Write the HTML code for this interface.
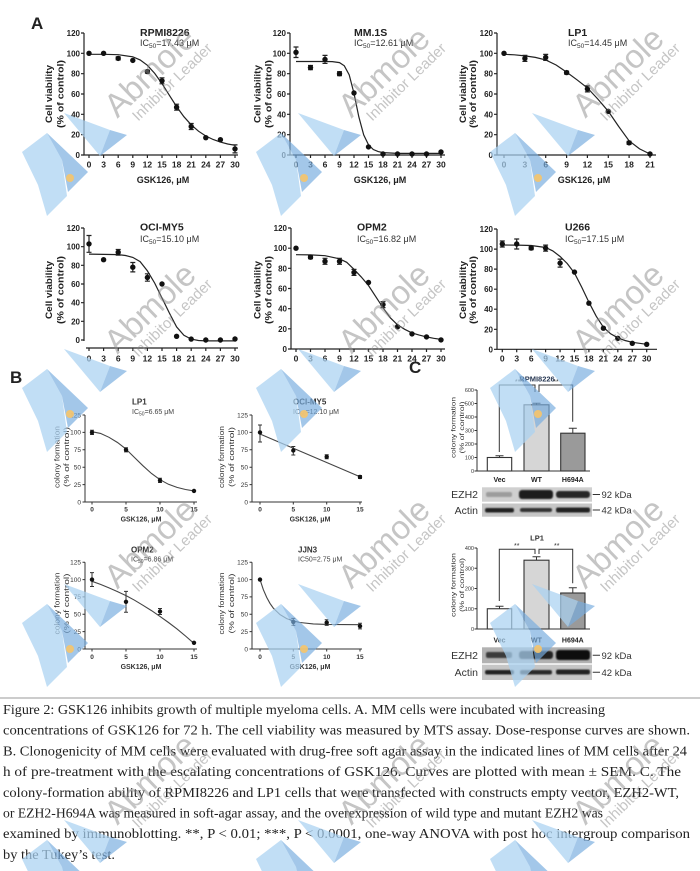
<!DOCTYPE html>
<html><head><meta charset="utf-8"><style>
html,body{margin:0;padding:0;background:#fff;width:700px;height:871px;overflow:hidden;}
svg{display:block;overflow:hidden;}
text{font-family:"Liberation Sans",Arial,sans-serif;}
.ser{font-family:"Liberation Serif","Times New Roman",serif;}
</style></head><body>
<svg width="700" height="871" viewBox="0 0 700 871" xmlns="http://www.w3.org/2000/svg">
<defs>
<g id="logo">
<polygon points="-128,80 -103,61 -88,88 -83,124 -103,144 -112,113" fill="#a9d1f1" opacity="0.72"/>
<polygon points="-103,61 -62,100 -82,120 -88,88" fill="#78addf" opacity="0.68"/>
<polygon points="-86,41 -40,58 -50,84" fill="#a9d1f1" opacity="0.72"/>
<polygon points="-40,58 -23,63 -50,84" fill="#78addf" opacity="0.68"/>
<circle cx="-80" cy="106" r="4" fill="#f6c46a" opacity="0.9"/>
</g>
<g id="logo2">
<polygon points="-128,80 -103,61 -88,88 -87.4,92 -122.2,92" fill="#a9d1f1" opacity="0.72"/>
<polygon points="-103,61 -70.4,92 -87.25,92 -88,88" fill="#78addf" opacity="0.68"/>
<polygon points="-86,41 -40,58 -50,84" fill="#a9d1f1" opacity="0.72"/>
<polygon points="-40,58 -23,63 -50,84" fill="#78addf" opacity="0.68"/>
</g>
<filter id="bl" x="-20%" y="-50%" width="140%" height="200%"><feGaussianBlur stdDeviation="0.8"/></filter>
</defs>
<rect width="700" height="871" fill="#fff"/>

<!-- ===== Panel A row 1 ===== -->
<text x="31" y="29" font-size="17" font-weight="bold" fill="#222">A</text>

<!-- A1 RPMI8226 -->
<g stroke="#222" stroke-width="1.2" fill="none">
<path d="M84,33V155H238"/>
<path d="M81,155H84M81,134.7H84M81,114.3H84M81,94H84M81,73.7H84M81,53.3H84M81,33H84"/>
<path d="M89,155V158M103.6,155V158M118.2,155V158M132.8,155V158M147.4,155V158M162,155V158M176.6,155V158M191.2,155V158M205.8,155V158M220.4,155V158M235,155V158"/>
<polyline points="89,54.3 103.6,54.3 118.2,54.7 132.8,56.8 140.1,59.9 147.4,65.3 154.7,73.4 162,83.6 169.3,95.2 176.6,106.6 183.9,116.7 191.2,124.8 198.5,131.2 205.8,136 213.1,139.5 220.4,142.1 227.7,144 235,145.3"/>
<path d="M118.2,56.9V59.9M115.7,56.9H120.7M115.7,59.9H120.7M147.4,70.1V73.1M144.9,70.1H149.9M144.9,73.1H149.9M162,77.8V83.8M159.5,77.8H164.5M159.5,83.8H164.5M176.6,104.2V110.2M174.1,104.2H179.1M174.1,110.2H179.1M191.2,123.5V129.5M188.7,123.5H193.7M188.7,129.5H193.7M235,144.9V152.9M232.5,144.9H237.5M232.5,152.9H237.5"/>
</g>
<g fill="#111"><circle cx="89" cy="53.3" r="2.7"/><circle cx="103.6" cy="53.3" r="2.7"/><circle cx="118.2" cy="58.4" r="2.7"/><circle cx="132.8" cy="60.4" r="2.7"/><circle cx="147.4" cy="71.6" r="2.7"/><circle cx="162" cy="80.8" r="2.7"/><circle cx="176.6" cy="107.2" r="2.7"/><circle cx="191.2" cy="126.5" r="2.7"/><circle cx="205.8" cy="137.7" r="2.7"/><circle cx="220.4" cy="139.7" r="2.7"/><circle cx="235" cy="148.9" r="2.7"/></g>
<g font-size="8" font-weight="bold" fill="#222" text-anchor="end"><text x="80" y="158">0</text><text x="80" y="137.7">20</text><text x="80" y="117.3">40</text><text x="80" y="97">60</text><text x="80" y="76.7">80</text><text x="80" y="56.3">100</text><text x="80" y="36">120</text></g>
<g font-size="8.5" font-weight="bold" fill="#222" text-anchor="middle"><text x="89" y="167.5">0</text><text x="103.6" y="167.5">3</text><text x="118.2" y="167.5">6</text><text x="132.8" y="167.5">9</text><text x="147.4" y="167.5">12</text><text x="162" y="167.5">15</text><text x="176.6" y="167.5">18</text><text x="191.2" y="167.5">21</text><text x="205.8" y="167.5">24</text><text x="220.4" y="167.5">27</text><text x="235" y="167.5">30</text></g>
<text x="140" y="36" font-size="10.5" font-weight="bold" fill="#222">RPMI8226</text>
<text x="140" y="46" font-size="9" fill="#333">IC<tspan font-size="6.5" dy="2">50</tspan><tspan dy="-2">=17.43 μM</tspan></text>
<text x="163" y="183" font-size="9" font-weight="bold" fill="#222" text-anchor="middle">GSK126, μM</text>
<text transform="translate(52,94) rotate(-90)" font-size="9.5" font-weight="bold" fill="#222" text-anchor="middle" textLength="58" lengthAdjust="spacingAndGlyphs">Cell viability</text>
<text transform="translate(63.5,94) rotate(-90)" font-size="9" font-weight="bold" fill="#222" text-anchor="middle" textLength="68" lengthAdjust="spacingAndGlyphs">(% of control)</text>

<!-- A2 MM.1S -->
<g stroke="#222" stroke-width="1.2" fill="none">
<path d="M290,33V155H445"/>
<path d="M287,155H290M287,134.7H290M287,114.3H290M287,94H290M287,73.7H290M287,53.3H290M287,33H290"/>
<path d="M296,155V158M310.5,155V158M325,155V158M339.5,155V158M354,155V158M368.5,155V158M383,155V158M397.5,155V158M412,155V158M426.5,155V158M441,155V158"/>
<polyline points="296,61.5 325,61.5 332.3,61.6 339.5,62.6 344.3,65.8 349.2,74.9 354,93.4 358.8,116.7 363.7,134.9 368.5,144.8 373.3,149.5 378.2,151.6 383,152.6 397.5,153.4 441,153.4"/>
<path d="M296,47V57.5M293.5,47H298.5M293.5,57.5H298.5M310.5,65.5V69.7M308,65.5H313M308,69.7H313M325,55.4V63.4M322.5,55.4H327.5M322.5,63.4H327.5M339.5,71.7V75.7M337,71.7H342M337,75.7H342"/>
</g>
<g fill="#111"><circle cx="296" cy="52.3" r="2.7"/><circle cx="310.5" cy="67.6" r="2.7"/><circle cx="325" cy="59.4" r="2.7"/><circle cx="339.5" cy="73.7" r="2.7"/><circle cx="354" cy="93" r="2.7"/><circle cx="368.5" cy="146.9" r="2.7"/><circle cx="383" cy="154" r="2.7"/><circle cx="397.5" cy="154" r="2.7"/><circle cx="412" cy="154" r="2.7"/><circle cx="426.5" cy="154" r="2.7"/><circle cx="441" cy="152" r="2.7"/></g>
<g font-size="8" font-weight="bold" fill="#222" text-anchor="end"><text x="286" y="158">0</text><text x="286" y="137.7">20</text><text x="286" y="117.3">40</text><text x="286" y="97">60</text><text x="286" y="76.7">80</text><text x="286" y="56.3">100</text><text x="286" y="36">120</text></g>
<g font-size="8.5" font-weight="bold" fill="#222" text-anchor="middle"><text x="296" y="167.5">0</text><text x="310.5" y="167.5">3</text><text x="325" y="167.5">6</text><text x="339.5" y="167.5">9</text><text x="354" y="167.5">12</text><text x="368.5" y="167.5">15</text><text x="383" y="167.5">18</text><text x="397.5" y="167.5">21</text><text x="412" y="167.5">24</text><text x="426.5" y="167.5">27</text><text x="441" y="167.5">30</text></g>
<text x="354" y="36" font-size="10.5" font-weight="bold" fill="#222">MM.1S</text>
<text x="354" y="46" font-size="9" fill="#333">IC<tspan font-size="6.5" dy="2">50</tspan><tspan dy="-2">=12.61 μM</tspan></text>
<text x="380" y="183" font-size="9" font-weight="bold" fill="#222" text-anchor="middle">GSK126,  μM</text>
<text transform="translate(260.5,94) rotate(-90)" font-size="9.5" font-weight="bold" fill="#222" text-anchor="middle" textLength="58" lengthAdjust="spacingAndGlyphs">Cell viability</text>
<text transform="translate(271.5,94) rotate(-90)" font-size="9" font-weight="bold" fill="#222" text-anchor="middle" textLength="68" lengthAdjust="spacingAndGlyphs">(% of control)</text>

<!-- A3 LP1 -->
<g stroke="#222" stroke-width="1.2" fill="none">
<path d="M497,33V155H656"/>
<path d="M494,155H497M494,134.7H497M494,114.3H497M494,94H497M494,73.7H497M494,53.3H497M494,33H497"/>
<path d="M504,155V158M524.9,155V158M545.7,155V158M566.6,155V158M587.4,155V158M608.3,155V158M629.1,155V158M650,155V158"/>
<polyline points="504,54.3 514.4,54.8 524.9,55.9 535.3,57.4 545.7,59.9 556.1,65 566.6,72.1 577,79.8 587.4,87.9 597.9,99.1 608.3,111.3 618.7,126.5 629.1,140.8 639.6,148.9 650,154"/>
<path d="M524.9,55.4V61.4M522.4,55.4H527.4M522.4,61.4H527.4M545.7,54.4V60.4M543.2,54.4H548.2M543.2,60.4H548.2M566.6,71.1V74.1M564.1,71.1H569.1M564.1,74.1H569.1M587.4,85.9V91.9M584.9,85.9H589.9M584.9,91.9H589.9M629.1,141.3V144.3M626.6,141.3H631.6M626.6,144.3H631.6"/>
</g>
<g fill="#111"><circle cx="504" cy="53.3" r="2.7"/><circle cx="524.9" cy="58.4" r="2.7"/><circle cx="545.7" cy="57.4" r="2.7"/><circle cx="566.6" cy="72.6" r="2.7"/><circle cx="587.4" cy="88.9" r="2.7"/><circle cx="608.3" cy="111.3" r="2.7"/><circle cx="629.1" cy="142.8" r="2.7"/><circle cx="650" cy="154" r="2.7"/></g>
<g font-size="8" font-weight="bold" fill="#222" text-anchor="end"><text x="493" y="158">0</text><text x="493" y="137.7">20</text><text x="493" y="117.3">40</text><text x="493" y="97">60</text><text x="493" y="76.7">80</text><text x="493" y="56.3">100</text><text x="493" y="36">120</text></g>
<g font-size="8.5" font-weight="bold" fill="#222" text-anchor="middle"><text x="504" y="167.5">0</text><text x="524.9" y="167.5">3</text><text x="545.7" y="167.5">6</text><text x="566.6" y="167.5">9</text><text x="587.4" y="167.5">12</text><text x="608.3" y="167.5">15</text><text x="629.1" y="167.5">18</text><text x="650" y="167.5">21</text></g>
<text x="568" y="36" font-size="10.5" font-weight="bold" fill="#222">LP1</text>
<text x="568" y="46" font-size="9" fill="#333">IC<tspan font-size="6.5" dy="2">50</tspan><tspan dy="-2">=14.45 μM</tspan></text>
<text x="584" y="183" font-size="9" font-weight="bold" fill="#222" text-anchor="middle">GSK126, μM</text>
<text transform="translate(466,94) rotate(-90)" font-size="9.5" font-weight="bold" fill="#222" text-anchor="middle" textLength="58" lengthAdjust="spacingAndGlyphs">Cell viability</text>
<text transform="translate(476,94) rotate(-90)" font-size="9" font-weight="bold" fill="#222" text-anchor="middle" textLength="68" lengthAdjust="spacingAndGlyphs">(% of control)</text>

<!-- ===== Row 2 ===== -->
<!-- A4 OCI-MY5 -->
<g stroke="#222" stroke-width="1.2" fill="none">
<path d="M84,228V341M86,348H238"/>
<path d="M81,340H84M81,321.3H84M81,302.7H84M81,284H84M81,265.3H84M81,246.7H84M81,228H84"/>
<path d="M89,348V351M103.6,348V351M118.2,348V351M132.8,348V351M147.4,348V351M162,348V351M176.6,348V351M191.2,348V351M205.8,348V351M220.4,348V351M235,348V351"/>
<polyline points="89,254.1 118.2,254.6 125.5,255.5 132.8,257.4 140.1,261.6 147.4,270.9 154.7,283.1 162,298 169.3,312.9 176.6,326.9 183.9,335.3 191.2,339.1 198.5,340.5 205.8,340.9 235,340.9"/>
<path d="M89,235.5V252.3M86.5,235.5H91.5M86.5,252.3H91.5M118.2,249.5V255.1M115.7,249.5H120.7M115.7,255.1H120.7M132.8,262.5V271.9M130.3,262.5H135.3M130.3,271.9H135.3M147.4,273.8V281.2M144.9,273.8H149.9M144.9,281.2H149.9"/>
</g>
<g fill="#111"><circle cx="89" cy="243.9" r="2.7"/><circle cx="103.6" cy="259.7" r="2.7"/><circle cx="118.2" cy="252.3" r="2.7"/><circle cx="132.8" cy="267.2" r="2.7"/><circle cx="147.4" cy="277.5" r="2.7"/><circle cx="162" cy="284" r="2.7"/><circle cx="176.6" cy="336.3" r="2.7"/><circle cx="191.2" cy="339.1" r="2.7"/><circle cx="205.8" cy="340" r="2.7"/><circle cx="220.4" cy="340" r="2.7"/><circle cx="235" cy="339" r="2.7"/></g>
<g font-size="8" font-weight="bold" fill="#222" text-anchor="end"><text x="80" y="343">0</text><text x="80" y="324.3">20</text><text x="80" y="305.7">40</text><text x="80" y="287">60</text><text x="80" y="268.3">80</text><text x="80" y="249.7">100</text><text x="80" y="231">120</text></g>
<g font-size="8.5" font-weight="bold" fill="#222" text-anchor="middle"><text x="89" y="361.5">0</text><text x="103.6" y="361.5">3</text><text x="118.2" y="361.5">6</text><text x="132.8" y="361.5">9</text><text x="147.4" y="361.5">12</text><text x="162" y="361.5">15</text><text x="176.6" y="361.5">18</text><text x="191.2" y="361.5">21</text><text x="205.8" y="361.5">24</text><text x="220.4" y="361.5">27</text><text x="235" y="361.5">30</text></g>
<text x="140" y="230.5" font-size="10.5" font-weight="bold" fill="#222">OCI-MY5</text>
<text x="140" y="242" font-size="9" fill="#333">IC<tspan font-size="6.5" dy="2">50</tspan><tspan dy="-2">=15.10 μM</tspan></text>
<text transform="translate(52,290) rotate(-90)" font-size="9.5" font-weight="bold" fill="#222" text-anchor="middle" textLength="58" lengthAdjust="spacingAndGlyphs">Cell viability</text>
<text transform="translate(63.5,290) rotate(-90)" font-size="9" font-weight="bold" fill="#222" text-anchor="middle" textLength="68" lengthAdjust="spacingAndGlyphs">(% of control)</text>

<!-- A5 OPM2 -->
<g stroke="#222" stroke-width="1.2" fill="none">
<path d="M291,228V349H445"/>
<path d="M288,349H291M288,328.8H291M288,308.7H291M288,288.5H291M288,268.3H291M288,248.2H291M288,228H291"/>
<path d="M296,349V352M310.5,349V352M325,349V352M339.5,349V352M354,349V352M368.5,349V352M383,349V352M397.5,349V352M412,349V352M426.5,349V352M441,349V352"/>
<polyline points="296,254.7 310.5,254.9 325,255.7 339.5,258.8 346.7,262.3 354,269.3 361.2,276.9 368.5,285.5 375.7,296.6 383,307.7 390.2,317.7 397.5,324.8 404.7,329.3 412,332.9 419.2,335.1 426.5,336.9 433.7,338.3 441,339.4"/>
<path d="M310.5,255.7V258.7M308,255.7H313M308,258.7H313M325,258.3V264.3M322.5,258.3H327.5M322.5,264.3H327.5M339.5,258.3V264.3M337,258.3H342M337,264.3H342M354,269.4V275.4M351.5,269.4H356.5M351.5,275.4H356.5M383,301.6V307.6M380.5,301.6H385.5M380.5,307.6H385.5"/>
</g>
<g fill="#111"><circle cx="296" cy="248.2" r="2.7"/><circle cx="310.5" cy="257.2" r="2.7"/><circle cx="325" cy="261.3" r="2.7"/><circle cx="339.5" cy="261.3" r="2.7"/><circle cx="354" cy="272.4" r="2.7"/><circle cx="368.5" cy="282.5" r="2.7"/><circle cx="383" cy="304.6" r="2.7"/><circle cx="397.5" cy="326.8" r="2.7"/><circle cx="412" cy="333.9" r="2.7"/><circle cx="426.5" cy="336.9" r="2.7"/><circle cx="441" cy="339.9" r="2.7"/></g>
<g font-size="8" font-weight="bold" fill="#222" text-anchor="end"><text x="287" y="352">0</text><text x="287" y="331.8">20</text><text x="287" y="311.7">40</text><text x="287" y="291.5">60</text><text x="287" y="271.3">80</text><text x="287" y="251.2">100</text><text x="287" y="231">120</text></g>
<g font-size="8.5" font-weight="bold" fill="#222" text-anchor="middle"><text x="296" y="361.5">0</text><text x="310.5" y="361.5">3</text><text x="325" y="361.5">6</text><text x="339.5" y="361.5">9</text><text x="354" y="361.5">12</text><text x="368.5" y="361.5">15</text><text x="383" y="361.5">18</text><text x="397.5" y="361.5">21</text><text x="412" y="361.5">24</text><text x="426.5" y="361.5">27</text><text x="441" y="361.5">30</text></g>
<text x="357" y="230.5" font-size="10.5" font-weight="bold" fill="#222">OPM2</text>
<text x="357" y="242" font-size="9" fill="#333">IC<tspan font-size="6.5" dy="2">50</tspan><tspan dy="-2">=16.82 μM</tspan></text>
<text transform="translate(260.5,290) rotate(-90)" font-size="9.5" font-weight="bold" fill="#222" text-anchor="middle" textLength="58" lengthAdjust="spacingAndGlyphs">Cell viability</text>
<text transform="translate(271.5,290) rotate(-90)" font-size="9" font-weight="bold" fill="#222" text-anchor="middle" textLength="68" lengthAdjust="spacingAndGlyphs">(% of control)</text>

<!-- A6 U266 -->
<g stroke="#222" stroke-width="1.2" fill="none">
<path d="M497,229V349.3H657"/>
<path d="M494,349.3H497M494,329.3H497M494,309.2H497M494,289.2H497M494,269.1H497M494,249.1H497M494,229H497"/>
<path d="M502.3,349.3V352.3M516.7,349.3V352.3M531.2,349.3V352.3M545.6,349.3V352.3M560.1,349.3V352.3M574.5,349.3V352.3M588.9,349.3V352.3M603.4,349.3V352.3M617.8,349.3V352.3M632.3,349.3V352.3M646.7,349.3V352.3"/>
<polyline points="502.3,245 516.7,245.1 531.2,245.5 545.6,247.5 552.8,250.9 560.1,256.5 567.3,263.6 574.5,273.1 581.7,287.1 588.9,302.2 596.2,316.2 603.4,327.2 610.6,333.8 617.8,337.8 625,340.5 632.3,342.3 646.7,344.3"/>
<path d="M502.3,241V247M499.8,241H504.8M499.8,247H504.8M516.7,239V249M514.2,239H519.2M514.2,249H519.2M531.2,246.6V249.6M528.7,246.6H533.7M528.7,249.6H533.7M545.6,245.1V251.1M543.1,245.1H548.1M543.1,251.1H548.1M560.1,259.1V267.1M557.6,259.1H562.6M557.6,267.1H562.6"/>
</g>
<g fill="#111"><circle cx="502.3" cy="244" r="2.7"/><circle cx="516.7" cy="244" r="2.7"/><circle cx="531.2" cy="248.1" r="2.7"/><circle cx="545.6" cy="248.1" r="2.7"/><circle cx="560.1" cy="263.1" r="2.7"/><circle cx="574.5" cy="272.1" r="2.7"/><circle cx="588.9" cy="303.2" r="2.7"/><circle cx="603.4" cy="328.2" r="2.7"/><circle cx="617.8" cy="338.3" r="2.7"/><circle cx="632.3" cy="343.3" r="2.7"/><circle cx="646.7" cy="344.3" r="2.7"/></g>
<g font-size="8" font-weight="bold" fill="#222" text-anchor="end"><text x="493" y="352.3">0</text><text x="493" y="332.3">20</text><text x="493" y="312.2">40</text><text x="493" y="292.2">60</text><text x="493" y="272.1">80</text><text x="493" y="252.1">100</text><text x="493" y="232">120</text></g>
<g font-size="8.5" font-weight="bold" fill="#222" text-anchor="middle"><text x="502.3" y="361.5">0</text><text x="516.7" y="361.5">3</text><text x="531.2" y="361.5">6</text><text x="545.6" y="361.5">9</text><text x="560.1" y="361.5">12</text><text x="574.5" y="361.5">15</text><text x="588.9" y="361.5">18</text><text x="603.4" y="361.5">21</text><text x="617.8" y="361.5">24</text><text x="632.3" y="361.5">27</text><text x="646.7" y="361.5">30</text></g>
<text x="565" y="230.5" font-size="10.5" font-weight="bold" fill="#222">U266</text>
<text x="565" y="242" font-size="9" fill="#333">IC<tspan font-size="6.5" dy="2">50</tspan><tspan dy="-2">=17.15 μM</tspan></text>
<text transform="translate(466,290) rotate(-90)" font-size="9.5" font-weight="bold" fill="#222" text-anchor="middle" textLength="58" lengthAdjust="spacingAndGlyphs">Cell viability</text>
<text transform="translate(476,290) rotate(-90)" font-size="9" font-weight="bold" fill="#222" text-anchor="middle" textLength="68" lengthAdjust="spacingAndGlyphs">(% of control)</text>

<!-- ===== Panel B ===== -->
<text x="10" y="383" font-size="17" font-weight="bold" fill="#222">B</text>

<!-- B1 LP1 -->
<g stroke="#333" stroke-width="1" fill="none">
<path d="M85,415V502H197"/>
<path d="M82.5,502H85M82.5,484.6H85M82.5,467.2H85M82.5,449.8H85M82.5,432.4H85M82.5,415H85"/>
<path d="M92,502V504.5M126,502V504.5M160,502V504.5M194,502V504.5"/>
<polyline stroke="#444" stroke-width="1.1" points="92,431.7 100.5,433.4 109,437.3 117.5,442.5 126,449.1 134.5,457.5 143,465.8 151.5,473.5 160,479.7 168.5,484.3 177,487.4 185.5,489.5 194,490.9"/>
<path d="M92,430.3V434.5M90,430.3H94M90,434.5H94M126,447.7V451.9M124,447.7H128M124,451.9H128M160,478.3V482.5M158,478.3H162M158,482.5H162"/>
</g>
<g fill="#111"><circle cx="92" cy="432.4" r="2.2"/><circle cx="126" cy="449.8" r="2.2"/><circle cx="160" cy="480.4" r="2.2"/><circle cx="194" cy="490.9" r="2.2"/></g>
<g font-size="6.5" fill="#333" text-anchor="end"><text x="81" y="504.3">0</text><text x="81" y="486.9">25</text><text x="81" y="469.5">50</text><text x="81" y="452.1">75</text><text x="81" y="434.7">100</text><text x="81" y="417.3">125</text></g>
<g font-size="6.5" font-weight="bold" fill="#333" text-anchor="middle"><text x="92" y="511.5">0</text><text x="126" y="511.5">5</text><text x="160" y="511.5">10</text><text x="194" y="511.5">15</text></g>
<text x="132" y="404.5" font-size="8" font-weight="bold" fill="#333">LP1</text>
<text x="132" y="414" font-size="7" fill="#444">IC<tspan font-size="5" dy="1.5">50</tspan><tspan dy="-1.5">=6.65 μM</tspan></text>
<text x="141" y="521.5" font-size="7" font-weight="bold" fill="#333" text-anchor="middle">GSK126, μM</text>
<text transform="translate(59.5,457) rotate(-90)" font-size="7.5" fill="#333" text-anchor="middle" textLength="62" lengthAdjust="spacingAndGlyphs">colony formation</text>
<text transform="translate(69,457) rotate(-90)" font-size="7.5" fill="#333" text-anchor="middle" textLength="60" lengthAdjust="spacingAndGlyphs">(% of control)</text>

<!-- B2 OCI-MY5 -->
<g stroke="#333" stroke-width="1" fill="none">
<path d="M252,415V502H362"/>
<path d="M249.5,502H252M249.5,484.6H252M249.5,467.2H252M249.5,449.8H252M249.5,432.4H252M249.5,415H252"/>
<path d="M260,502V504.5M293.3,502V504.5M326.7,502V504.5M360,502V504.5"/>
<line stroke="#444" stroke-width="1.1" x1="260" y1="434" x2="360" y2="476.7"/>
<path d="M260,425V442M258,425H262M258,442H262M293.3,446.5V455M291.3,446.5H295.3M291.3,455H295.3M326.7,454.8V458.8M324.7,454.8H328.7M324.7,458.8H328.7M360,475.5V478.5M358,475.5H362M358,478.5H362"/>
</g>
<g fill="#111"><circle cx="260" cy="432.4" r="2.2"/><circle cx="293.3" cy="450.5" r="2.2"/><circle cx="326.7" cy="456.8" r="2.2"/><circle cx="360" cy="477" r="2.2"/></g>
<g font-size="6.5" fill="#333" text-anchor="end"><text x="248" y="504.3">0</text><text x="248" y="486.9">25</text><text x="248" y="469.5">50</text><text x="248" y="452.1">75</text><text x="248" y="434.7">100</text><text x="248" y="417.3">125</text></g>
<g font-size="6.5" font-weight="bold" fill="#333" text-anchor="middle"><text x="260" y="511.5">0</text><text x="293.3" y="511.5">5</text><text x="326.7" y="511.5">10</text><text x="360" y="511.5">15</text></g>
<text x="293" y="404.5" font-size="8" font-weight="bold" fill="#333">OCI-MY5</text>
<text x="293" y="414" font-size="7" fill="#444">IC<tspan font-size="5" dy="1.5">50</tspan><tspan dy="-1.5">=12.10 μM</tspan></text>
<text x="310" y="521.5" font-size="7" font-weight="bold" fill="#333" text-anchor="middle">GSK126, μM</text>
<text transform="translate(224,457) rotate(-90)" font-size="7.5" fill="#333" text-anchor="middle" textLength="62" lengthAdjust="spacingAndGlyphs">colony formation</text>
<text transform="translate(234,457) rotate(-90)" font-size="7.5" fill="#333" text-anchor="middle" textLength="60" lengthAdjust="spacingAndGlyphs">(% of control)</text>

<!-- B3 OPM2 -->
<g stroke="#333" stroke-width="1" fill="none">
<path d="M85,562.3V649H197"/>
<path d="M82.5,649H85M82.5,631.6H85M82.5,614.3H85M82.5,596.9H85M82.5,579.6H85M82.5,562.3H85"/>
<path d="M92,649V651.5M126,649V651.5M160,649V651.5M194,649V651.5"/>
<polyline stroke="#444" stroke-width="1.1" points="92,581.3 100.5,584.4 109,587.9 117.5,591.6 126,595.6 134.5,600.2 143,605.3 151.5,610.6 160,616.4 168.5,622.5 177,628.9 185.5,636 194,643.4"/>
<path d="M92,572.6V586.5M90,572.6H94M90,586.5H94M126,591.4V612.2M124,591.4H128M124,612.2H128M160,608.5V614.5M158,608.5H162M158,614.5H162"/>
</g>
<g fill="#111"><circle cx="92" cy="579.6" r="2.2"/><circle cx="126" cy="601.8" r="2.2"/><circle cx="160" cy="611.5" r="2.2"/><circle cx="194" cy="642.8" r="2.2"/></g>
<g font-size="6.5" fill="#333" text-anchor="end"><text x="81" y="651.3">0</text><text x="81" y="633.9">25</text><text x="81" y="616.6">50</text><text x="81" y="599.2">75</text><text x="81" y="581.9">100</text><text x="81" y="564.6">125</text></g>
<g font-size="6.5" font-weight="bold" fill="#333" text-anchor="middle"><text x="92" y="659">0</text><text x="126" y="659">5</text><text x="160" y="659">10</text><text x="194" y="659">15</text></g>
<text x="131" y="552.5" font-size="8" font-weight="bold" fill="#333">OPM2</text>
<text x="131" y="561.5" font-size="7" fill="#444">IC<tspan font-size="5" dy="1.5">50</tspan><tspan dy="-1.5">=6.86 μM</tspan></text>
<text x="141" y="669" font-size="7" font-weight="bold" fill="#333" text-anchor="middle">GSK126, μM</text>
<text transform="translate(59.5,603.5) rotate(-90)" font-size="7.5" fill="#333" text-anchor="middle" textLength="62" lengthAdjust="spacingAndGlyphs">colony formation</text>
<text transform="translate(69,603.5) rotate(-90)" font-size="7.5" fill="#333" text-anchor="middle" textLength="60" lengthAdjust="spacingAndGlyphs">(% of control)</text>

<!-- B4 JJN3 -->
<g stroke="#333" stroke-width="1" fill="none">
<path d="M252,562.3V649H362"/>
<path d="M249.5,649H252M249.5,631.6H252M249.5,614.3H252M249.5,596.9H252M249.5,579.6H252M249.5,562.3H252"/>
<path d="M260,649V651.5M293.3,649V651.5M326.7,649V651.5M360,649V651.5"/>
<polyline stroke="#444" stroke-width="1.1" points="260,579.6 263.3,589.6 266.7,597.4 270,603.4 273.3,608.1 280,614.6 286.7,618.6 293.3,621 300,622.5 313.3,623.9 326.7,624.4 360,624.7"/>
<path d="M293.3,618.4V625.4M291.3,618.4H295.3M291.3,625.4H295.3M326.7,619.8V625.4M324.7,619.8H328.7M324.7,625.4H328.7M360,623.3V628.9M358,623.3H362M358,628.9H362"/>
</g>
<g fill="#111"><circle cx="260" cy="579.6" r="2.2"/><circle cx="293.3" cy="621.9" r="2.2"/><circle cx="326.7" cy="622.6" r="2.2"/><circle cx="360" cy="626.1" r="2.2"/></g>
<g font-size="6.5" fill="#333" text-anchor="end"><text x="248" y="651.3">0</text><text x="248" y="633.9">25</text><text x="248" y="616.6">50</text><text x="248" y="599.2">75</text><text x="248" y="581.9">100</text><text x="248" y="564.6">125</text></g>
<g font-size="6.5" font-weight="bold" fill="#333" text-anchor="middle"><text x="260" y="659">0</text><text x="293.3" y="659">5</text><text x="326.7" y="659">10</text><text x="360" y="659">15</text></g>
<text x="298" y="552.5" font-size="8" font-weight="bold" fill="#333">JJN3</text>
<text x="298" y="561.5" font-size="7" fill="#444">IC50=2.75 μM</text>
<text x="310" y="669" font-size="7" font-weight="bold" fill="#333" text-anchor="middle">GSK126, μM</text>
<text transform="translate(224,603.5) rotate(-90)" font-size="7.5" fill="#333" text-anchor="middle" textLength="62" lengthAdjust="spacingAndGlyphs">colony formation</text>
<text transform="translate(234,603.5) rotate(-90)" font-size="7.5" fill="#333" text-anchor="middle" textLength="60" lengthAdjust="spacingAndGlyphs">(% of control)</text>

<!-- ===== Panel C ===== -->
<text x="409" y="373" font-size="17" font-weight="bold" fill="#222">C</text>

<!-- C1 RPMI8226 -->
<text x="537" y="381.5" font-size="7.5" font-weight="bold" fill="#2a3a55" text-anchor="middle">RPMI8226</text>
<g stroke="#333" stroke-width="1.1">
<rect x="487.3" y="457.5" width="24.4" height="13.5" fill="#fff"/>
<rect x="524" y="404.8" width="25" height="66.2" fill="#d6d6d6"/>
<rect x="560.7" y="433.2" width="24.3" height="37.8" fill="#9a9a9a"/>
</g>
<g stroke="#333" stroke-width="1" fill="none">
<path d="M477,390V471H590"/>
<path d="M474.5,471H477M474.5,457.5H477M474.5,444H477M474.5,430.5H477M474.5,417H477M474.5,403.5H477M474.5,390H477"/>
<path d="M499.5,457.5V455.7M495.5,455.7H503.5M536.5,404.8V403.3M532.5,403.3H540.5M572.8,433.2V428.3M568.8,428.3H576.8"/>
<path d="M499.3,452V385H535V392M539,392V385H572.7V421.7"/>
</g>
<g font-size="5.5" fill="#333" text-anchor="end"><text x="474" y="473">0</text><text x="474" y="459.5">100</text><text x="474" y="446">200</text><text x="474" y="432.5">300</text><text x="474" y="419">400</text><text x="474" y="405.5">500</text><text x="474" y="392">600</text></g>
<text x="519" y="384" font-size="7" fill="#333" text-anchor="middle">***</text>
<text x="556" y="384" font-size="7" fill="#333" text-anchor="middle">**</text>
<text transform="translate(455.5,427.5) rotate(-90)" font-size="6.5" fill="#333" text-anchor="middle" textLength="61" lengthAdjust="spacingAndGlyphs">colony formation</text>
<text transform="translate(464,427.5) rotate(-90)" font-size="6.5" fill="#333" text-anchor="middle" textLength="52" lengthAdjust="spacingAndGlyphs">(% of control)</text>
<g font-size="7" font-weight="bold" fill="#222" text-anchor="middle"><text x="499.5" y="482">Vec</text><text x="536.5" y="482">WT</text><text x="572.8" y="482">H694A</text></g>
<rect x="482" y="487.3" width="110" height="14.4" fill="#d0d0d0"/>
<rect x="482" y="503.5" width="110" height="13.2" fill="#c6c6c6"/>
<g filter="url(#bl)">
<rect x="486" y="492" width="26" height="5" rx="2" fill="#9c9c9c"/>
<rect x="519" y="490" width="34" height="9" rx="3" fill="#1a1a1a"/>
<rect x="556" y="491" width="34" height="7" rx="3" fill="#252525"/>
<rect x="485" y="508" width="29" height="4.5" rx="2" fill="#222"/>
<rect x="520" y="508" width="32" height="4" rx="2" fill="#333"/>
<rect x="556" y="507.5" width="34" height="5" rx="2" fill="#222"/>
</g>
<text x="478" y="498" font-size="10.5" fill="#333" text-anchor="end">EZH2</text>
<text x="478" y="514" font-size="10.5" fill="#333" text-anchor="end">Actin</text>
<g stroke="#333" stroke-width="1"><path d="M592.7,494.5H600M592.7,510H600"/></g>
<text x="601.5" y="498" font-size="9.5" fill="#333">92 kDa</text>
<text x="601.5" y="513.5" font-size="9.5" fill="#333">42 kDa</text>

<!-- C2 LP1 -->
<text x="537" y="540.5" font-size="7.5" font-weight="bold" fill="#333" text-anchor="middle">LP1</text>
<g stroke="#333" stroke-width="1.1">
<rect x="487.3" y="608.75" width="24.4" height="20.25" fill="#fff"/>
<rect x="524" y="560.2" width="25" height="68.8" fill="#d6d6d6"/>
<rect x="560.7" y="593" width="24.3" height="36" fill="#9a9a9a"/>
</g>
<g stroke="#333" stroke-width="1" fill="none">
<path d="M477,548V629H590"/>
<path d="M474.5,629H477M474.5,608.75H477M474.5,588.5H477M474.5,568.25H477M474.5,548H477"/>
<path d="M499.5,608.75V606.2M495.5,606.2H503.5M536.5,560.2V556.7M532.5,556.7H540.5M572.8,593V587.7M568.8,587.7H576.8"/>
<path d="M499.3,601V549.3H535V554M539,554V549.3H572.7V583.3"/>
</g>
<g font-size="5.5" fill="#333" text-anchor="end"><text x="474" y="631">0</text><text x="474" y="610.75">100</text><text x="474" y="590.5">200</text><text x="474" y="570.25">300</text><text x="474" y="550">400</text></g>
<text x="516.7" y="548" font-size="7" fill="#333" text-anchor="middle">**</text>
<text x="556.7" y="548" font-size="7" fill="#333" text-anchor="middle">**</text>
<text transform="translate(455.5,585) rotate(-90)" font-size="6.5" fill="#333" text-anchor="middle" textLength="64" lengthAdjust="spacingAndGlyphs">colony formation</text>
<text transform="translate(464,585) rotate(-90)" font-size="6.5" fill="#333" text-anchor="middle" textLength="54" lengthAdjust="spacingAndGlyphs">(% of control)</text>
<g font-size="7" font-weight="bold" fill="#222" text-anchor="middle"><text x="499.5" y="642.5">Vec</text><text x="536.5" y="642.5">WT</text><text x="572.8" y="642.5">H694A</text></g>
<rect x="482" y="647.3" width="110" height="16" fill="#b2b2b2"/>
<rect x="482" y="664.7" width="110" height="15.3" fill="#c6c6c6"/>
<g filter="url(#bl)">
<rect x="486" y="652" width="26" height="6" rx="2" fill="#3a3a3a"/>
<rect x="519" y="651" width="34" height="8" rx="3" fill="#222"/>
<rect x="556" y="650" width="34" height="10" rx="3" fill="#111"/>
<rect x="485" y="670" width="29" height="4.5" rx="2" fill="#222"/>
<rect x="520" y="670" width="32" height="4.5" rx="2" fill="#2a2a2a"/>
<rect x="556" y="669.5" width="34" height="5" rx="2" fill="#222"/>
</g>
<text x="478" y="659" font-size="10.5" fill="#333" text-anchor="end">EZH2</text>
<text x="478" y="676" font-size="10.5" fill="#333" text-anchor="end">Actin</text>
<g stroke="#333" stroke-width="1"><path d="M592.7,655.3H600M592.7,672.3H600"/></g>
<text x="601.5" y="658.8" font-size="9.5" fill="#333">92 kDa</text>
<text x="601.5" y="675.8" font-size="9.5" fill="#333">42 kDa</text>

<!-- separator -->
<line x1="0" y1="698" x2="700" y2="698" stroke="#9a9a9a" stroke-width="1"/>

<!-- caption -->
<g font-size="13.5" fill="#222">
<text class="ser" x="3" y="714" textLength="602" lengthAdjust="spacingAndGlyphs">Figure 2: GSK126 inhibits growth of multiple myeloma cells. A. MM cells were incubated with increasing</text>
<text class="ser" x="3" y="734.7" textLength="687" lengthAdjust="spacingAndGlyphs">concentrations of GSK126 for 72 h. The cell viability was measured by MTS assay. Dose-response curves are shown.</text>
<text class="ser" x="3" y="755.4" textLength="684" lengthAdjust="spacingAndGlyphs">B. Clonogenicity of MM cells were evaluated with drug-free soft agar assay in the indicated lines of MM cells after 24</text>
<text class="ser" x="3" y="776" textLength="678" lengthAdjust="spacingAndGlyphs">h of pre-treatment with the escalating concentrations of GSK126. Curves are plotted with mean ± SEM. C. The</text>
<text class="ser" x="3" y="796.8" textLength="676" lengthAdjust="spacingAndGlyphs">colony-formation ability of RPMI8226 and LP1 cells that were transfected with constructs empty vector, EZH2-WT,</text>
<text class="ser" x="3" y="817.5" textLength="600" lengthAdjust="spacingAndGlyphs">or EZH2-H694A was measured in soft-agar assay, and the overexpression of wild type and mutant EZH2 was</text>
<text class="ser" x="3" y="838.2" textLength="687" lengthAdjust="spacingAndGlyphs">examined by immunoblotting. **, P &lt; 0.01; ***, P &lt; 0.0001, one-way ANOVA with post hoc intergroup comparison</text>
<text class="ser" x="3" y="859" textLength="112" lengthAdjust="spacingAndGlyphs">by the Tukey’s test.</text>
</g>

<!-- ===== watermarks ===== -->
<g>
<use href="#logo" transform="translate(150,72)"/>
<use href="#logo" transform="translate(384,72)"/>
<use href="#logo" transform="translate(618,72)"/>
<use href="#logo" transform="translate(150,308)"/>
<use href="#logo" transform="translate(384,308)"/>
<use href="#logo" transform="translate(618,308)"/>
<use href="#logo" transform="translate(150,543)"/>
<use href="#logo" transform="translate(384,543)"/>
<use href="#logo" transform="translate(618,543)"/>
<use href="#logo2" transform="translate(150,779)"/>
<use href="#logo2" transform="translate(384,779)"/>
<use href="#logo2" transform="translate(618,779)"/>
</g>
<g fill="#8a8a8a" opacity="0.5" text-anchor="middle">
<g transform="translate(150,72) rotate(-44)"><text y="11" font-size="33">Abmole</text><text x="9" y="27.5" font-size="15">Inhibitor Leader</text></g>
<g transform="translate(384,72) rotate(-44)"><text y="11" font-size="33">Abmole</text><text x="9" y="27.5" font-size="15">Inhibitor Leader</text></g>
<g transform="translate(618,72) rotate(-44)"><text y="11" font-size="33">Abmole</text><text x="9" y="27.5" font-size="15">Inhibitor Leader</text></g>
<g transform="translate(150,308) rotate(-44)"><text y="11" font-size="33">Abmole</text><text x="9" y="27.5" font-size="15">Inhibitor Leader</text></g>
<g transform="translate(384,308) rotate(-44)"><text y="11" font-size="33">Abmole</text><text x="9" y="27.5" font-size="15">Inhibitor Leader</text></g>
<g transform="translate(618,308) rotate(-44)"><text y="11" font-size="33">Abmole</text><text x="9" y="27.5" font-size="15">Inhibitor Leader</text></g>
<g transform="translate(150,543) rotate(-44)"><text y="11" font-size="33">Abmole</text><text x="9" y="27.5" font-size="15">Inhibitor Leader</text></g>
<g transform="translate(384,543) rotate(-44)"><text y="11" font-size="33">Abmole</text><text x="9" y="27.5" font-size="15">Inhibitor Leader</text></g>
<g transform="translate(618,543) rotate(-44)"><text y="11" font-size="33">Abmole</text><text x="9" y="27.5" font-size="15">Inhibitor Leader</text></g>
<g transform="translate(150,779) rotate(-44)"><text y="11" font-size="33">Abmole</text><text x="9" y="27.5" font-size="15">Inhibitor Leader</text></g>
<g transform="translate(384,779) rotate(-44)"><text y="11" font-size="33">Abmole</text><text x="9" y="27.5" font-size="15">Inhibitor Leader</text></g>
<g transform="translate(618,779) rotate(-44)"><text y="11" font-size="33">Abmole</text><text x="9" y="27.5" font-size="15">Inhibitor Leader</text></g>
</g>
</svg>
</body></html>
